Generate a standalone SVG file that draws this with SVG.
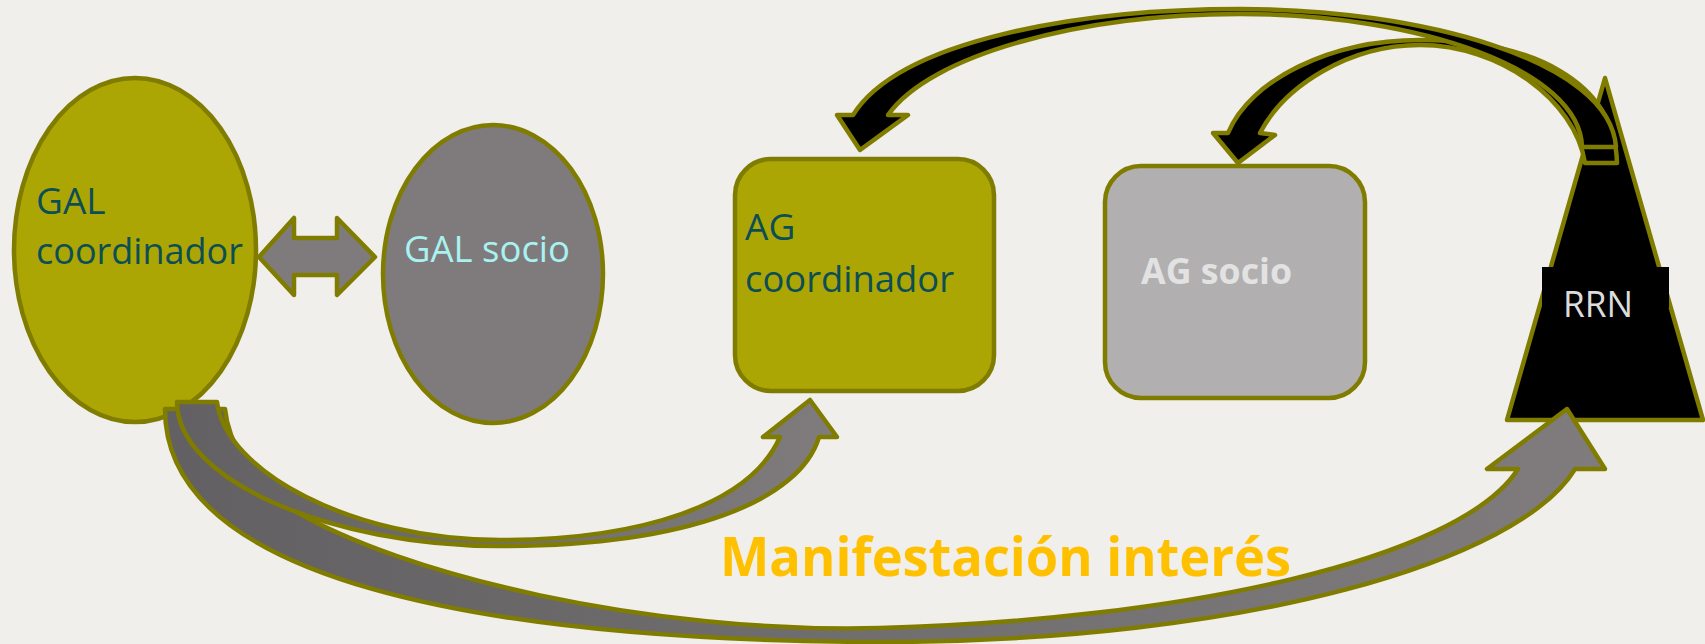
<svg xmlns="http://www.w3.org/2000/svg" width="1705" height="644" viewBox="0 0 1705 644">
<style>
.ol{stroke:#807C00;stroke-width:4.5;stroke-linejoin:round}
.olive{fill:#ACA604}
.dark{fill:#0C4E55;font-family:"Open Sans","Noto Sans",sans-serif;font-size:37px}
.blk{fill:#000}
</style>
<defs>
<linearGradient id="g1" x1="0" y1="0" x2="1" y2="0">
<stop offset="0" stop-color="#626062"/>
<stop offset="1" stop-color="#807C7D"/>
</linearGradient>
</defs>
<rect x="0" y="0" width="1705" height="644" fill="#F0EFEB"/>
<g id="gal-coordinador">
<ellipse cx="135" cy="250" rx="121" ry="172" class="olive ol"/>
<text x="36" y="214" class="dark">GAL</text>
<text x="36" y="264" class="dark" textLength="207" lengthAdjust="spacingAndGlyphs">coordinador</text>
</g>
<g id="gal-socio">
<ellipse cx="493" cy="274" rx="110" ry="149" fill="#7F7B7C" class="ol"/>
<text x="404" y="262" fill="#A9F2F2" font-family="Open Sans, Noto Sans, sans-serif" font-size="37" textLength="166" lengthAdjust="spacingAndGlyphs">GAL socio</text>
</g>
<g id="ag-coordinador">
<rect x="735" y="159" width="259" height="232" rx="36" class="olive ol"/>
<text x="745" y="240" class="dark">AG</text>
<text x="745" y="292" class="dark" textLength="209" lengthAdjust="spacingAndGlyphs">coordinador</text>
</g>
<g id="ag-socio">
<rect x="1105" y="166" width="260" height="232" rx="36" fill="#B1AFB0" class="ol"/>
<text x="1141" y="284" fill="#E2E2E2" font-family="Open Sans, Noto Sans, sans-serif" font-weight="bold" font-size="36" textLength="151" lengthAdjust="spacingAndGlyphs">AG socio</text>
</g>
<g id="rrn">
<polygon points="1605,78 1703,420 1507,420" class="blk ol"/>
<rect x="1542" y="267" width="127" height="41" fill="#000"/>
<text x="1563" y="317" fill="#DCDCDC" font-family="Open Sans, Noto Sans, sans-serif" font-size="37" textLength="70" lengthAdjust="spacingAndGlyphs">RRN</text>
</g>
<g id="connectors">
<polygon points="259,257 294,218 294,238 337,238 337,218 375,257 337,295 337,275 294,275 294,295" fill="#7F7B7C" class="ol"/>
<path d="M225,409 L165,409 C165,580 480,640 877,642 C1250,642 1520,560 1575,469 L1605,469 L1567,409 L1487,469 L1518,469 C1460,560 1180,620 880,628 C650,634 400,575 290,508 C250,482 228,440 225,409 Z" fill="url(#g1)" class="ol"/>
<path d="M217,402 L177,402 C177,480 330,546 500,546 C690,546 800,500 819,437 L837,437 L810,400 L763,437 L780,437 C750,505 640,540 500,540 C350,540 225,470 217,402 Z" fill="url(#g1)" class="ol"/>
<path d="M1585,163 L1617,163 C1615,80 1530,40 1420,40 C1330,40 1250,80 1228,133 L1213,133 L1238,163 L1275,135 L1260,133 C1285,85 1350,45 1420,45 C1500,45 1575,100 1585,163 Z" class="blk ol"/>
<path d="M1582,147 L1616,147 C1610,60 1420,9 1240,9 C1080,9 900,40 853,115 L837,115 L860,150 L908,115 L888,115 C930,55 1080,14 1240,14 C1420,14 1580,70 1582,147 Z" class="blk ol"/>
</g>
<text x="720" y="576" fill="#FFC000" font-family="Open Sans, Noto Sans, sans-serif" font-weight="bold" font-size="54" textLength="571" lengthAdjust="spacingAndGlyphs">Manifestación interés</text>
</svg>
